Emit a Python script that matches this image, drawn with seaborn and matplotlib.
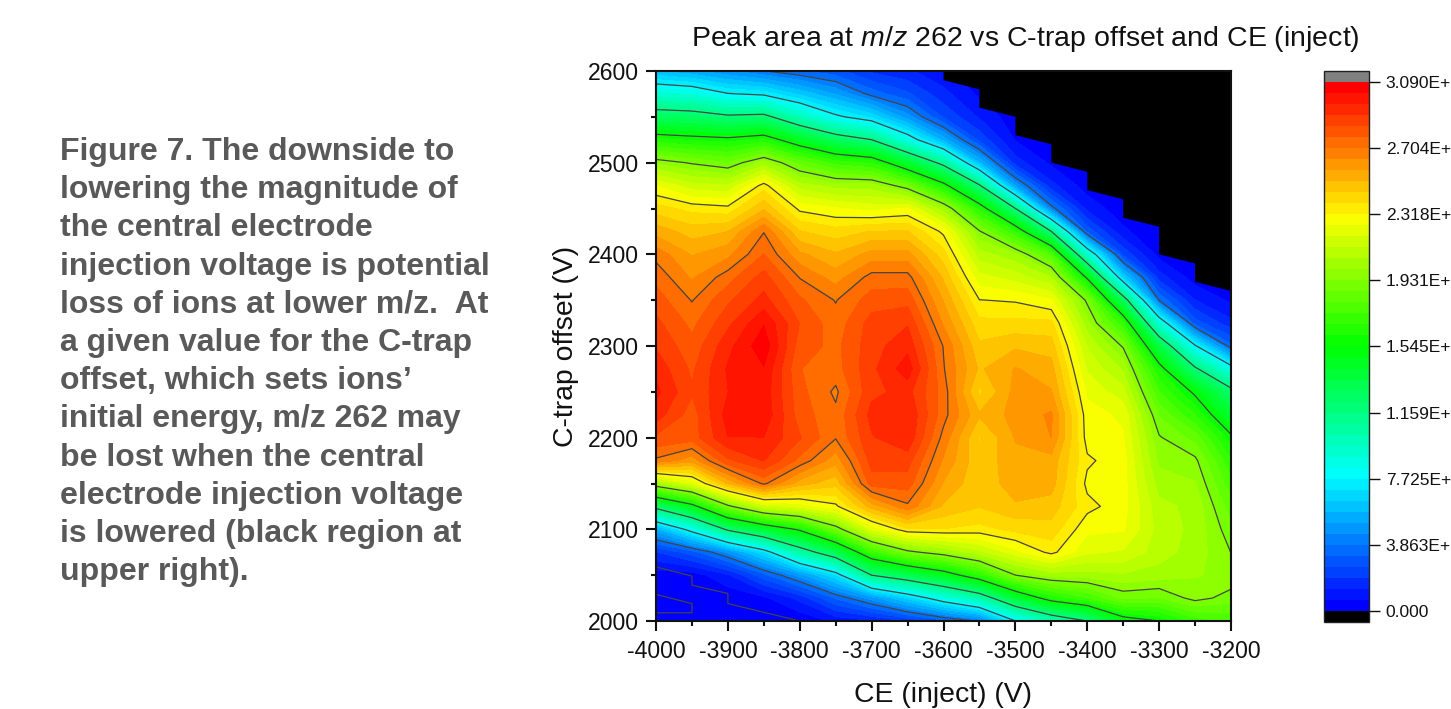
import numpy as np
import matplotlib
matplotlib.use("Agg")
import matplotlib.pyplot as plt
import seaborn as sns
from matplotlib.colors import ListedColormap

ce_values = [-4000, -3950, -3900, -3850, -3800, -3750, -3700, -3650, -3600,
             -3550, -3500, -3450, -3400, -3350, -3300, -3250, -3200]
offset_values = list(range(2000, 2625, 25))

# peak area in units of 1E+7, one list per CE value, offset 2000 -> 2600
area_by_ce = [
    [0.3, 0.0, 0.3, 1.9, 5.5, 12.2, 20.3, 26.9, 28.2, 29.3, 29.8, 29.4, 28.9, 28.5, 28.0, 27.5, 26.8, 25.5, 24.1, 22.5, 19.8, 16.3, 12.7, 9.2, 5.8],
    [0.3, 0.0, 0.3, 2.9, 8.3, 14.8, 22.0, 26.0, 28.0, 28.0, 28.4, 28.2, 27.9, 27.5, 27.0, 26.3, 25.7, 24.8, 23.6, 21.5, 19.2, 16.0, 12.5, 8.9, 5.3],
    [0.0, 0.1, 1.2, 4.6, 11.9, 19.0, 25.2, 28.2, 29.6, 29.9, 29.6, 29.7, 29.4, 28.8, 28.2, 27.4, 26.2, 25.1, 23.4, 21.3, 18.7, 15.8, 11.9, 7.8, 4.6],
    [0.0, 0.5, 3.0, 7.0, 13.9, 21.5, 27.2, 29.0, 29.6, 30.1, 30.0, 30.2, 30.7, 30.2, 29.2, 28.6, 27.7, 27.0, 25.0, 23.5, 20.2, 16.3, 12.1, 7.5, 3.9],
    [0.1, 1.5, 4.8, 10.5, 15.7, 22.1, 25.4, 27.5, 28.4, 28.0, 27.9, 27.7, 28.0, 28.3, 27.8, 27.0, 25.9, 24.5, 23.0, 20.9, 18.4, 14.4, 9.9, 6.3, 3.3],
    [0.8, 3.3, 7.0, 13.0, 18.7, 23.0, 24.7, 26.0, 27.1, 27.2, 26.9, 27.4, 27.5, 27.3, 27.0, 26.1, 25.2, 24.1, 22.6, 20.3, 17.1, 12.7, 8.0, 5.1, 2.8],
    [1.2, 4.8, 11.6, 17.0, 22.0, 25.4, 28.0, 28.6, 28.9, 29.2, 28.8, 28.8, 28.7, 28.6, 28.0, 27.3, 26.0, 24.5, 22.3, 20.2, 16.6, 11.6, 6.9, 3.6, 1.8],
    [2.0, 6.6, 13.0, 19.0, 23.7, 26.9, 28.0, 28.6, 29.5, 29.6, 29.2, 30.0, 29.4, 28.9, 28.1, 27.3, 26.0, 24.5, 22.6, 18.8, 14.0, 8.6, 4.8, 2.7, 1.4],
    [3.0, 8.6, 14.5, 19.9, 23.8, 25.0, 25.7, 26.3, 26.8, 27.3, 27.4, 27.1, 27.0, 26.3, 25.7, 25.0, 24.1, 23.0, 20.2, 16.0, 11.0, 5.5, 2.5, 1.5, 0.8],
    [4.0, 10.3, 16.6, 21.0, 23.6, 24.5, 24.6, 24.6, 24.4, 25.2, 24.3, 25.0, 24.6, 24.0, 23.2, 22.1, 20.9, 19.4, 16.4, 11.8, 5.8, 2.4, 1.2, 0.5, 0.0],
    [7.7, 13.8, 19.3, 22.3, 24.0, 25.0, 25.5, 25.6, 25.8, 26.0, 26.0, 25.8, 25.0, 24.0, 23.1, 21.6, 20.1, 16.7, 11.6, 5.0, 1.6, 0.6, 0.2, 0.0, 0.0],
    [10.0, 16.2, 20.2, 23.4, 24.2, 24.8, 25.4, 25.5, 26.4, 26.5, 25.8, 25.4, 24.8, 24.0, 22.6, 20.6, 17.7, 11.6, 4.2, 1.5, 0.5, 0.1, 0.0, 0.0, 0.0],
    [11.6, 17.3, 20.3, 22.0, 22.7, 23.4, 23.0, 23.3, 22.9, 22.8, 22.4, 21.8, 21.2, 20.2, 19.1, 15.2, 9.3, 3.0, 1.1, 0.3, 0.0, 0.0, 0.0, 0.0, 0.0],
    [14.7, 18.8, 20.5, 21.8, 22.6, 22.8, 22.8, 22.8, 22.6, 22.4, 21.5, 20.5, 19.2, 16.8, 12.7, 6.5, 2.4, 0.8, 0.2, 0.0, 0.0, 0.0, 0.0, 0.0, 0.0],
    [15.45, 18.6, 20.3, 20.9, 21.0, 20.8, 20.3, 19.8, 19.4, 18.6, 17.4, 16.1, 13.4, 9.0, 3.8, 1.6, 0.4, 0.0, 0.0, 0.0, 0.0, 0.0, 0.0, 0.0, 0.0],
    [17.0, 19.6, 20.0, 20.3, 20.4, 20.4, 20.0, 19.5, 18.4, 16.7, 15.2, 11.9, 7.9, 2.9, 1.3, 0.3, 0.0, 0.0, 0.0, 0.0, 0.0, 0.0, 0.0, 0.0, 0.0],
    [17.5, 19.0, 19.8, 19.3, 18.9, 18.3, 17.6, 16.8, 15.7, 14.0, 12.2, 8.5, 3.4, 1.5, 0.5, 0.0, 0.0, 0.0, 0.0, 0.0, 0.0, 0.0, 0.0, 0.0, 0.0],
]

# edge of the region with no signal (black corner)
lost_ce = [-3600, -3600, -3550, -3550, -3500, -3500, -3450, -3450, -3400, -3400,
           -3350, -3350, -3300, -3300, -3250, -3250, -3200, -3200]
lost_offset = [2600, 2590, 2580, 2560, 2550, 2530, 2520, 2500, 2490, 2470,
               2460, 2440, 2430, 2400, 2390, 2370, 2360, 2600]

# zero contours at lower left
zero_ce = [-4000, -3950, -3950, -3900, -3900, -3800]
zero_offset = [2059, 2049, 2039, 2030, 2019, 2000]
zero_inner_ce = [-4000, -3950, -3950, -4000]
zero_inner_offset = [2029, 2019, 2009, 2009]

tick_values = [0.0, 3.863, 7.725, 11.59, 15.45, 19.31, 23.18, 27.04, 30.9]
# the labels run off the right edge in the original, only this much is visible
tick_labels = ["0.000", "3.863E+", "7.725E+", "1.159E+", "1.545E+",
               "1.931E+", "2.318E+", "2.704E+", "3.090E+"]

caption_lines = [
    "Figure 7. The downside to",
    "lowering the magnitude of",
    "the central electrode",
    "injection voltage is potential",
    "loss of ions at lower m/z.  At",
    "a given value for the C-trap",
    "offset, which sets ions\u2019",
    "initial energy, m/z 262 may",
    "be lost when the central",
    "electrode injection voltage",
    "is lowered (black region at",
    "upper right).",
]

sns.set_theme(style="ticks")
plt.rcParams["font.family"] = ["Liberation Sans", "DejaVu Sans"]
plt.rcParams["mathtext.fontset"] = "custom"
plt.rcParams["mathtext.rm"] = "Liberation Sans"
plt.rcParams["mathtext.it"] = "Liberation Sans:italic"
plt.rcParams["axes.unicode_minus"] = False

W, H = 1451, 709
fig = plt.figure(figsize=(W / 100, H / 100), dpi=100)
ax = fig.add_axes([656 / W, 1 - 621 / H, 575 / W, 550 / H])

# 48 bands from blue to red, same as the colour bar
bands = sns.blend_palette(["#0000ff", "#00ffff", "#00ff00", "#ffff00", "#ff0000"], n_colors=48)
cmap = ListedColormap(bands)
cmap.set_under("black")
cmap.set_over("#808080")
levels = np.linspace(0, 30.9, 49)

Z = np.array(area_by_ce).T
cf = ax.contourf(ce_values, offset_values, Z, levels=levels, cmap=cmap, extend="both")
ax.contour(ce_values, offset_values, Z, levels=tick_values[1:-1], colors="#444444", linewidths=0.9)
ax.plot(zero_ce, zero_offset, color="#444444", lw=0.9)
ax.plot(zero_inner_ce, zero_inner_offset, color="#444444", lw=0.9)
ax.fill(lost_ce, lost_offset, color="black", lw=0, zorder=3)

ax.set_xlim(-4000, -3200)
ax.set_ylim(2000, 2600)
ax.set_xticks(range(-4000, -3100, 100))
ax.set_yticks(range(2000, 2700, 100))
ax.set_xticks(range(-3950, -3200, 100), minor=True)
ax.set_yticks(range(2050, 2600, 100), minor=True)
ax.tick_params(which="major", direction="out", length=7.5, width=1.5, labelsize=16.6, color="#111111", labelcolor="#111111")
ax.tick_params(axis="x", which="major", pad=6)
ax.tick_params(axis="y", which="major", pad=5)
ax.tick_params(which="minor", direction="out", length=3.8, width=1.5, color="#111111")
for s in ax.spines.values():
    s.set_linewidth(1.5)
    s.set_color("#111111")
    s.set_zorder(5)
ax.set_xlabel("CE (inject) (V)", fontsize=20.4, labelpad=14, color="#111111")
ax.set_ylabel("C-trap offset (V)", fontsize=20.4, labelpad=6, color="#111111")
fig.text(1025 / W, 1 - 39 / H, r"Peak area at $\mathit{m/z}$ 262 vs C-trap offset and CE (inject)",
         fontsize=20.5, ha="center", va="center", color="#111111")

cax = fig.add_axes([1324 / W, 1 - 622 / H, 45 / W, 551 / H])
cb = fig.colorbar(cf, cax=cax, extend="both", extendrect=True, extendfrac=1 / 48, drawedges=False)
cb.set_ticks(tick_values)
cb.set_ticklabels(tick_labels)
cb.minorticks_off()
cb.ax.tick_params(direction="out", length=8, width=1, labelsize=12.5, pad=4, color="#111111", labelcolor="#111111")
cb.outline.set_linewidth(1)
cb.outline.set_edgecolor("#222222")

fig.text(60 / W, 1 - 137 / H, "\n".join(caption_lines), fontsize=23, fontweight="bold",
         color="#595959", ha="left", va="top", linespacing=1.356)

fig.savefig("out.png", dpi=100)
